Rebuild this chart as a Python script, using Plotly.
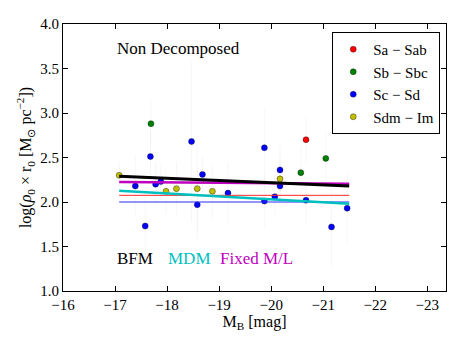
import plotly.graph_objects as go

# galaxy sample, grouped by morphological type
sa_mb = [-20.67]
sa_val = [2.70]
sa_err = [0.25]

sb_mb = [-17.69, -20.57, -21.05]
sb_val = [2.88, 2.33, 2.49]
sb_err = [0.25, 0.3, 0.3]

sc_mb = [-17.39, -17.58, -17.68, -17.78, -17.88, -18.47, -18.58, -18.68,
         -19.17, -19.87, -19.87, -20.07, -20.17, -20.17, -20.67, -21.16,
         -21.46]
sc_val = [2.18, 1.73, 2.51, 2.20, 2.23, 2.68, 1.97, 2.31,
          2.10, 2.61, 2.01, 2.06, 2.36, 2.18, 2.02, 1.72,
          1.93]
sc_err = [0.35, 0.4, 0.3, 0.25, 0.2, 0.9, 0.4, 0.2,
          0.35, 0.45, 0.3, 0.2, 0.3, 0.25, 0.25, 0.45,
          0.4]

sdm_mb = [-17.08, -17.98, -18.18, -18.58, -18.87, -20.17]
sdm_val = [2.30, 2.12, 2.15, 2.15, 2.12, 2.26]
sdm_err = [0.15, 0.25, 0.3, 0.5, 0.3, 0.25]

# fitted relations (end points)
fit_x = [-17.08, -21.5]
bfm_y = [2.29, 2.18]
mdm_y = [2.127, 1.98]
fixed_y = [2.225, 2.205]
mean_red_y = [2.075, 2.075]
mean_blue_y = [2.0, 2.0]

serif = "Liberation Serif"

groups = [
  ("Sa \u2212 Sab", sa_mb, sa_val, sa_err, "rgb(255,0,0)"),
  ("Sb \u2212 Sbc", sb_mb, sb_val, sb_err, "rgb(0,128,0)"),
  ("Sc \u2212 Sd", sc_mb, sc_val, sc_err, "rgb(0,0,255)"),
  ("Sdm \u2212 Im", sdm_mb, sdm_val, sdm_err, "rgb(191,191,0)"),
]

fig = go.Figure()

for name, xs, ys, es, col in groups:
  fig.add_trace(go.Scatter(
    x=xs, y=ys, name=name, mode='markers',
    error_y=dict(type='data', array=es, color='rgba(0,0,0,0.035)',
                 thickness=1, width=0),
    marker=dict(color=col, size=6, line=dict(color='rgba(0,0,0,0.6)', width=0.6))
  ))

lines = [
  (mean_red_y, "rgb(255,40,40)", 1),
  (mean_blue_y, "rgb(40,40,255)", 1),
  (mdm_y, "rgb(0,191,191)", 2.5),
  (fixed_y, "rgb(191,0,191)", 2.5),
  (bfm_y, "black", 3),
]
for ys, col, w in lines:
  fig.add_trace(go.Scatter(
    x=fit_x, y=ys, mode='lines', showlegend=False,
    line=dict(color=col, width=w)
  ))

axis_common = dict(
  showgrid=False, zeroline=False, ticks='inside', ticklen=5,
  tickcolor='black', showline=True, linecolor='black', linewidth=1,
  mirror='ticks', automargin=False,
  tickfont=dict(family=serif, size=15, color='black')
)

# page body has an 8px margin, so the figure is a bit smaller than the window
fig.update_layout(
  width=455, height=340,
  margin=dict(l=55, r=17, t=16, b=57),
  plot_bgcolor='white', paper_bgcolor='white',
  font=dict(family=serif, size=15, color='black'),
  xaxis=dict(
    range=[-16, -23.36], dtick=1, **axis_common,
    title=dict(text="M<sub>B</sub> [mag]", font=dict(family=serif, size=16),
               standoff=2)
  ),
  yaxis=dict(
    range=[1.0, 4.0], dtick=0.5, tickformat='.1f', **axis_common,
    title=dict(text="log(<i>\u03c1</i><sub>0</sub> \u00d7 r<sub>0</sub> [M<sub>\u2299</sub> pc<sup>\u22122</sup>])",
               font=dict(family=serif, size=16), standoff=4)
  ),
  legend=dict(
    x=0.703, y=0.97, xanchor='left', yanchor='top',
    bordercolor='black', borderwidth=1, bgcolor='white',
    font=dict(family=serif, size=15), itemwidth=30
  ),
  annotations=[
    dict(x=-17.0, y=3.73, xref='x', yref='y', text="Non Decomposed",
         showarrow=False, xanchor='left', font=dict(family=serif, size=17)),
    dict(x=-17.0, y=1.36, xref='x', yref='y', text="BFM",
         showarrow=False, xanchor='left', font=dict(family=serif, size=17, color='black')),
    dict(x=-17.98, y=1.36, xref='x', yref='y', text="MDM",
         showarrow=False, xanchor='left', font=dict(family=serif, size=17, color='rgb(0,191,191)')),
    dict(x=-18.98, y=1.36, xref='x', yref='y', text="Fixed M/L",
         showarrow=False, xanchor='left', font=dict(family=serif, size=17, color='rgb(191,0,191)')),
  ]
)

fig.write_html("out.html")
